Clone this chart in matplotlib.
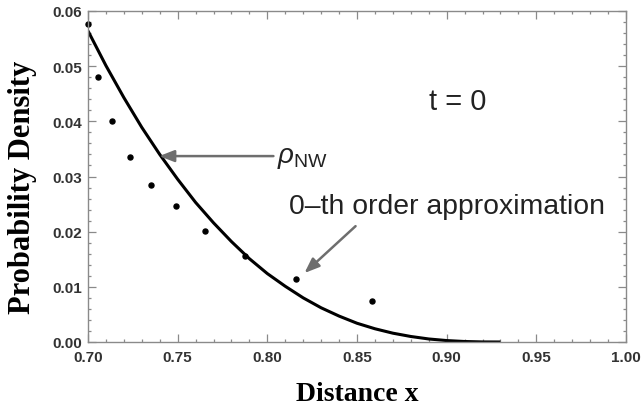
"""Probability density at t = 0: exact curve vs 0-th order approximation."""

import matplotlib
matplotlib.use('Agg')
import numpy as np
import matplotlib.pyplot as plt
from matplotlib.ticker import MultipleLocator

# ── Data ───────────────────────────────────────────────────────────────────
curve_x = [0.70, 0.71, 0.72, 0.73, 0.74, 0.75, 0.76, 0.77, 0.78, 0.79, 0.80, 0.81,
           0.82, 0.83, 0.84, 0.85, 0.86, 0.87, 0.88, 0.89, 0.90, 0.91, 0.92, 0.93]
curve_y = [0.0564, 0.0501, 0.0443, 0.0389, 0.0340, 0.0295, 0.0253, 0.0216, 0.0182,
           0.0151, 0.0124, 0.0101, 0.0080, 0.0062, 0.0047, 0.0034, 0.0024, 0.0016,
           0.0010, 0.00055, 0.00026, 0.00009, 0.00001, 0.0]

dots_x = [0.700, 0.7055, 0.7134, 0.7235, 0.7352, 0.7490, 0.7655, 0.7873, 0.8158, 0.8583]
dots_y = [0.0576, 0.0481, 0.0400, 0.0336, 0.0285, 0.0247, 0.0202, 0.0156, 0.0115, 0.0074]

xticks = [0.70, 0.75, 0.80, 0.85, 0.90, 0.95, 1.00]
yticks = [0.00, 0.01, 0.02, 0.03, 0.04, 0.05, 0.06]

plt.rcParams['mathtext.fontset'] = 'custom'
plt.rcParams['mathtext.rm'] = 'Liberation Sans'
plt.rcParams['mathtext.it'] = 'Liberation Sans:italic'

frame_col = '#8a8a8a'
arrow_col = '#6e6e6e'
text_col = '#222222'

fig = plt.figure(figsize=(6.41, 4.10), dpi=100)
ax = fig.add_axes([88 / 641, 67 / 410, 538 / 641, 331 / 410])

ax.plot(curve_x, curve_y, color='black', lw=2.2, solid_capstyle='butt')
ax.plot(dots_x, dots_y, 'o', color='black', ms=3.6, clip_on=False)

ax.set_xlim(0.70, 1.00)
ax.set_ylim(0.0, 0.06)
ax.set_xticks(xticks)
ax.set_yticks(yticks)
ax.set_xticklabels([f'{v:.2f}' for v in xticks])
ax.set_yticklabels([f'{v:.2f}' for v in yticks])
ax.xaxis.set_minor_locator(MultipleLocator(0.01))
ax.yaxis.set_minor_locator(MultipleLocator(0.002))

for s in ax.spines.values():
    s.set_color(frame_col)
    s.set_linewidth(1.0)
ax.tick_params(which='both', direction='in', top=True, right=True, color=frame_col, width=0.9)
ax.tick_params(which='major', length=5.5)
ax.tick_params(which='minor', length=2.5)
ax.tick_params(axis='x', which='major', pad=6)
ax.tick_params(axis='y', which='major', pad=4)
for lab in ax.get_xticklabels() + ax.get_yticklabels():
    lab.set_fontfamily('Liberation Sans')
    lab.set_fontweight('bold')
    lab.set_fontsize(11)
    lab.set_color('#333333')

ax.set_xlabel('Distance x', fontfamily='Liberation Serif', fontweight='bold',
              fontsize=20, labelpad=12)
ax.set_ylabel('Probability Density', fontfamily='Liberation Serif', fontweight='bold',
              fontsize=22)
ax.yaxis.set_label_coords(-0.095, 0.47)

# Annotations
ax.text(0.9061, 0.0437, 't = 0', fontfamily='Liberation Sans', fontsize=21,
        color=text_col, ha='center', va='center')

ax.annotate('', xy=(0.7397, 0.0337), xytext=(0.8034, 0.0337),
            arrowprops=dict(arrowstyle='-|>,head_length=0.9,head_width=0.35',
                            color=arrow_col, lw=1.8, shrinkA=0, shrinkB=0))
ax.text(0.8056, 0.0337, r'$\rho_{\mathrm{NW}}$', fontsize=20, color=text_col,
        ha='left', va='center')

ax.annotate('', xy=(0.8207, 0.0125), xytext=(0.8492, 0.0210),
            arrowprops=dict(arrowstyle='-|>,head_length=0.9,head_width=0.35',
                            color=arrow_col, lw=1.8, shrinkA=0, shrinkB=0))
ax.text(0.8123, 0.0247, '0\u2013th order approximation', fontfamily='Liberation Sans',
        fontsize=20.4, color=text_col, ha='left', va='center')

plt.savefig('out.png', dpi=100)
plt.close()
print("Saved: out.png")
